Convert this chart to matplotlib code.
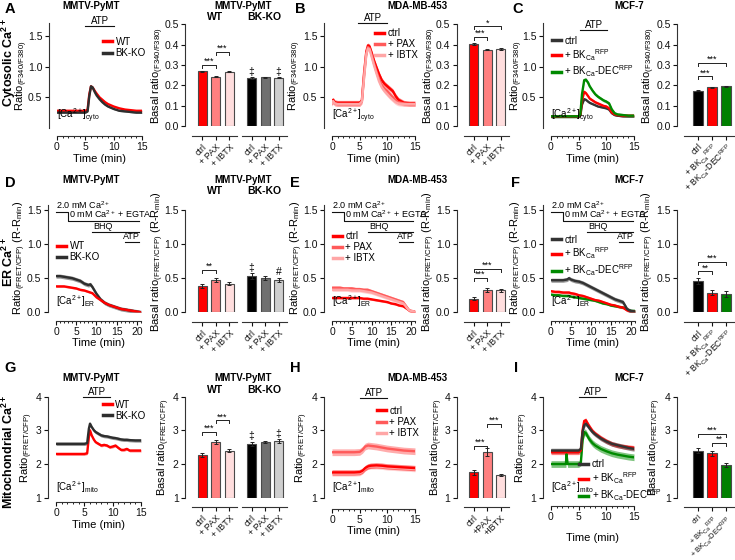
import matplotlib
matplotlib.use('Agg')
import matplotlib.pyplot as plt
import numpy as np
from matplotlib.lines import Line2D
from matplotlib.ticker import MultipleLocator

plt.rcParams['font.family'] = ['Liberation Sans', 'DejaVu Sans']
plt.rcParams['mathtext.fontset'] = 'custom'
plt.rcParams['mathtext.rm'] = 'Liberation Sans'
plt.rcParams['mathtext.it'] = 'Liberation Sans'
plt.rcParams['mathtext.bf'] = 'Liberation Sans:bold'
plt.rcParams['axes.linewidth'] = 0.8

# ---------------- trace data ----------------
A_t = [0, 1, 2, 3, 4, 5, 5.4, 5.7, 6.0, 6.3, 6.7, 7, 7.5, 8, 8.5, 9, 9.5, 10, 11, 12, 13, 14, 15]
A_wt = [0.28, 0.28, 0.28, 0.28, 0.28, 0.28, 0.30, 0.55, 0.68, 0.66, 0.60, 0.56, 0.50, 0.46, 0.42, 0.39,
        0.37, 0.35, 0.32, 0.30, 0.29, 0.28, 0.28]
A_ko = [0.25, 0.25, 0.25, 0.25, 0.25, 0.25, 0.27, 0.52, 0.68, 0.66, 0.58, 0.53, 0.47, 0.42, 0.38, 0.35,
        0.33, 0.31, 0.28, 0.27, 0.26, 0.25, 0.25]

B_t = [0, 0.2, 0.5, 1, 2, 3, 4, 5, 5.4, 5.8, 6.2, 6.5, 6.8, 7.2, 7.6, 8, 8.5, 9, 9.5, 10, 10.5, 11,
       11.5, 12, 13, 14, 15]
B_ctrl = [0.42, 0.46, 0.42, 0.41, 0.41, 0.41, 0.41, 0.41, 0.45, 0.90, 1.25, 1.35, 1.33, 1.22, 1.10, 1.00,
          0.88, 0.78, 0.72, 0.68, 0.64, 0.60, 0.52, 0.46, 0.41, 0.40, 0.40]
B_pax = [0.40, 0.43, 0.40, 0.39, 0.39, 0.39, 0.39, 0.39, 0.43, 0.85, 1.22, 1.32, 1.30, 1.18, 1.05, 0.93,
         0.80, 0.70, 0.64, 0.60, 0.55, 0.50, 0.45, 0.42, 0.40, 0.39, 0.39]
B_ibtx = [0.40, 0.44, 0.40, 0.39, 0.39, 0.39, 0.39, 0.39, 0.43, 0.82, 1.20, 1.30, 1.28, 1.15, 1.02, 0.90,
          0.76, 0.66, 0.60, 0.55, 0.50, 0.46, 0.42, 0.40, 0.39, 0.39, 0.39]

C_t = [0, 1, 2, 3, 4, 5, 5.3, 5.6, 6, 6.3, 6.7, 7, 7.5, 8, 8.5, 9, 9.5, 10, 10.5, 11, 11.5, 12, 13, 14, 15]
C_ctrl = [0.18, 0.18, 0.18, 0.18, 0.18, 0.18, 0.20, 0.38, 0.47, 0.46, 0.43, 0.41, 0.39, 0.37, 0.35, 0.34,
          0.33, 0.32, 0.30, 0.24, 0.21, 0.20, 0.19, 0.19, 0.19]
C_bk = [0.19, 0.19, 0.19, 0.19, 0.19, 0.19, 0.21, 0.45, 0.59, 0.57, 0.52, 0.48, 0.45, 0.42, 0.40, 0.38,
        0.36, 0.35, 0.32, 0.25, 0.22, 0.21, 0.20, 0.20, 0.20]
C_dec = [0.19, 0.19, 0.19, 0.19, 0.19, 0.19, 0.22, 0.55, 0.78, 0.79, 0.74, 0.68, 0.61, 0.55, 0.51, 0.48,
         0.45, 0.43, 0.40, 0.30, 0.24, 0.22, 0.21, 0.20, 0.20]

D_t = [0, 1, 2, 3, 4, 5, 6, 7, 8, 8.5, 9, 9.5, 10, 11, 12, 13, 14, 15, 16, 17, 18, 19, 20, 21]
D_wt = [0.38, 0.38, 0.38, 0.37, 0.36, 0.35, 0.33, 0.32, 0.30, 0.29, 0.28, 0.25, 0.22, 0.18, 0.14, 0.11,
        0.09, 0.07, 0.05, 0.04, 0.03, 0.02, 0.01, 0.00]
D_ko = [0.53, 0.53, 0.52, 0.51, 0.50, 0.48, 0.46, 0.42, 0.40, 0.41, 0.37, 0.32, 0.27, 0.19, 0.14, 0.11,
        0.09, 0.07, 0.05, 0.04, 0.03, 0.02, 0.01, 0.00]

E_t = [0, 1, 2, 3, 4, 5, 6, 7, 8, 9, 10, 11, 12, 13, 14, 15, 16, 17, 18, 18.5, 19, 19.5, 20, 21]
E_ctrl = [0.21, 0.21, 0.21, 0.21, 0.21, 0.21, 0.21, 0.21, 0.20, 0.20, 0.19, 0.18, 0.17, 0.16, 0.15, 0.13,
          0.12, 0.10, 0.09, 0.07, 0.05, 0.03, 0.01, 0.01]
E_pax = [0.36, 0.36, 0.36, 0.35, 0.35, 0.35, 0.34, 0.34, 0.33, 0.33, 0.31, 0.29, 0.27, 0.25, 0.23, 0.21,
         0.19, 0.17, 0.15, 0.11, 0.07, 0.03, 0.02, 0.01]
E_ibtx = [0.33, 0.33, 0.33, 0.33, 0.33, 0.32, 0.32, 0.32, 0.31, 0.30, 0.29, 0.27, 0.25, 0.23, 0.21, 0.19,
          0.17, 0.15, 0.13, 0.10, 0.06, 0.03, 0.02, 0.01]

F_t = [0, 1, 2, 3, 4, 4.5, 5, 6, 7, 8, 9, 10, 11, 12, 13, 14, 15, 16, 17, 18, 18.5, 19, 19.5, 20, 21]
F_ctrl = [0.47, 0.47, 0.47, 0.47, 0.48, 0.50, 0.48, 0.46, 0.45, 0.43, 0.40, 0.37, 0.34, 0.31, 0.28, 0.25,
          0.22, 0.19, 0.17, 0.15, 0.10, 0.05, 0.03, 0.02, 0.01]
F_bk = [0.31, 0.30, 0.30, 0.29, 0.29, 0.29, 0.28, 0.27, 0.25, 0.24, 0.22, 0.20, 0.18, 0.17, 0.15, 0.13,
        0.11, 0.10, 0.08, 0.07, 0.05, 0.03, 0.02, 0.01, 0.01]
F_dec = [0.26, 0.25, 0.25, 0.24, 0.24, 0.24, 0.23, 0.22, 0.21, 0.20, 0.19, 0.18, 0.17, 0.15, 0.13, 0.12,
         0.10, 0.09, 0.08, 0.07, 0.06, 0.04, 0.03, 0.02, 0.02]

G_t = [0, 1, 2, 3, 4, 5, 5.5, 5.8, 6.0, 6.3, 6.7, 7, 7.5, 8, 8.5, 9, 9.5, 10, 10.5, 11, 11.5, 12, 12.5,
       13, 14, 15]
G_wt = [2.30, 2.30, 2.30, 2.30, 2.30, 2.30, 2.32, 2.80, 3.00, 2.85, 2.72, 2.65, 2.60, 2.55, 2.57, 2.55,
        2.50, 2.52, 2.55, 2.48, 2.42, 2.42, 2.45, 2.40, 2.40, 2.40]
G_ko = [2.60, 2.60, 2.60, 2.60, 2.60, 2.60, 2.62, 3.05, 3.20, 3.10, 3.00, 2.95, 2.90, 2.85, 2.83, 2.82,
        2.80, 2.78, 2.77, 2.75, 2.73, 2.72, 2.72, 2.71, 2.70, 2.70]

H_t = [0, 1, 2, 3, 4, 5, 5.5, 6, 6.5, 7, 8, 9, 10, 11, 12, 13, 14, 15]
H_ctrl = [1.75, 1.75, 1.75, 1.75, 1.75, 1.76, 1.80, 1.88, 1.93, 1.95, 1.96, 1.95, 1.93, 1.92, 1.91, 1.90,
          1.89, 1.88]
H_pax = [2.35, 2.35, 2.35, 2.35, 2.35, 2.36, 2.42, 2.52, 2.55, 2.54, 2.52, 2.49, 2.46, 2.44, 2.42, 2.40,
         2.39, 2.38]
H_ibtx = [1.72, 1.72, 1.72, 1.72, 1.72, 1.73, 1.78, 1.87, 1.92, 1.93, 1.93, 1.92, 1.90, 1.89, 1.88, 1.87,
          1.86, 1.85]

I_t = [0, 1, 2, 2.7, 2.8, 3, 4, 5, 5.4, 5.7, 6, 6.3, 6.7, 7, 7.5, 8, 9, 10, 11, 12, 13, 14, 15]
I_ctrl = [2.40, 2.40, 2.40, 2.40, 2.40, 2.40, 2.40, 2.40, 2.45, 2.95, 3.15, 3.20, 3.12, 3.05, 2.95, 2.88,
          2.76, 2.67, 2.60, 2.56, 2.52, 2.48, 2.45]
I_bk = [2.35, 2.35, 2.35, 2.35, 2.35, 2.35, 2.35, 2.35, 2.40, 3.00, 3.28, 3.30, 3.18, 3.10, 2.98, 2.90,
        2.78, 2.68, 2.60, 2.55, 2.52, 2.50, 2.48]
I_dec = [2.00, 2.00, 2.00, 2.00, 2.30, 2.00, 2.00, 2.00, 2.05, 2.70, 2.95, 2.92, 2.80, 2.72, 2.62, 2.55,
         2.45, 2.38, 2.32, 2.28, 2.25, 2.22, 2.20]

# sem per trace
A_sem = [0.012, 0.012]
B_sem = [0.04, 0.04, 0.04]
C_sem = [0.012, 0.02, 0.025]
D_sem = [0.015, 0.03]
E_sem = [0.015, 0.025, 0.025]
F_sem = [0.03, 0.02, 0.015]
G_sem = [0.04, 0.05]
H_sem = [0.08, 0.1, 0.08]
I_sem = [0.07, 0.07, 0.1]

# stimulus timing (min)
ATP_A = [5, 10]
ATP_B = [4.7, 10]
ATP_C = [5.3, 10.2]
ATP_G = [4.8, 9.6]
ATP_H = [5, 10]
ATP_I = [5, 10]
ER_SWITCH = 3
ER_BHQ = 9
ER_ATP = 17
ER_END = 20.6

# ---------------- bar data ----------------
GROUP_LABELS = ['ctrl', '+ PAX', '+ IBTX']
H_LABELS = ['ctrl', '+PAX', '+IBTX']
MCF_LABELS = ['ctrl', '+ BK$_{Ca}$$^{RFP}$', '+ BK$_{Ca}$-DEC$^{RFP}$']

A_wt_bar = [0.270, 0.243, 0.268]
A_wt_err = [0.003, 0.002, 0.002]
A_ko_bar = [0.237, 0.240, 0.238]
A_ko_err = [0.003, 0.002, 0.003]
B_bar = [0.405, 0.375, 0.380]
B_err = [0.005, 0.003, 0.004]
C_bar = [0.175, 0.190, 0.195]
C_err = [0.003, 0.004, 0.004]
D_wt_bar = [0.38, 0.47, 0.42]
D_wt_err = [0.03, 0.03, 0.02]
D_ko_bar = [0.53, 0.50, 0.48]
D_ko_err = [0.04, 0.03, 0.03]
E_bar = [0.20, 0.33, 0.32]
E_err = [0.02, 0.03, 0.02]
F_bar = [0.46, 0.29, 0.27]
F_err = [0.04, 0.03, 0.04]
G_wt_bar = [2.27, 2.65, 2.40]
G_wt_err = [0.05, 0.05, 0.04]
G_ko_bar = [2.60, 2.66, 2.68]
G_ko_err = [0.06, 0.03, 0.06]
H_bar = [1.75, 2.35, 1.68]
H_err = [0.07, 0.12, 0.03]
I_bar = [2.40, 2.32, 1.98]
I_err = [0.07, 0.07, 0.06]

# significance: (bar i, bar j, bracket height, label)
A_sig = [(0, 1, 0.30, '***'), (1, 2, 0.365, '***')]
B_sig = [(0, 1, 0.44, '***'), (0, 2, 0.49, '*')]
C_sig = [(0, 1, 0.245, '***'), (0, 2, 0.31, '***')]
D_sig = [(0, 1, 0.62, '**')]
E_sig = [(0, 1, 0.50, '***'), (0, 2, 0.64, '***')]
F_sig = [(0, 1, 0.60, '**'), (0, 2, 0.74, '***')]
G_sig = [(0, 1, 2.95, '***'), (1, 2, 3.30, '***')]
H_sig = [(0, 1, 2.55, '***'), (1, 2, 3.20, '***')]
I_sig = [(0, 2, 2.90, '***'), (1, 2, 2.62, '**')]
A_ko_marks = [(0, '‡'), (2, '‡')]
D_ko_marks = [(0, '‡'), (2, '#')]
G_ko_marks = [(0, '‡'), (2, '‡')]

RED = '#ff0000'
TR_RED = [RED, '#ff5a5a', '#ffa6a6']
TR_KO = [RED, '#2e2e2e']
TR_MCF = ['#333333', RED, '#008a00']
BAR_RED = [RED, '#ff8080', '#ffdede']
BAR_KO = ['#000000', '#707070', '#cfcfcf']
BAR_MCF = ['#000000', RED, '#008000']
DARK = '#333333'

W, H = 735, 560
fig = plt.figure(figsize=(W / 100, H / 100), dpi=100)


def px_axes(x0, x1, y0, y1):
    return fig.add_axes([x0 / W, 1 - y1 / H, (x1 - x0) / W, (y1 - y0) / H])


def ftext(x, y, s, **kw):
    fig.text(x / W, 1 - y / H, s, **kw)


def style(ax, left_out, bottom_out):
    for side in ['top', 'right']:
        ax.spines[side].set_visible(False)
    ax.spines['left'].set_position(('outward', left_out))
    ax.spines['bottom'].set_position(('outward', bottom_out))
    for side in ['left', 'bottom']:
        ax.spines[side].set_color(DARK)
    ax.tick_params(direction='out', length=3, width=0.8, labelsize=7.5, colors='#111111', pad=1.5)


def place_ylabel(ax, rect, text, lab_px):
    ax.set_ylabel(text, fontsize=8)
    ax.yaxis.set_label_coords((lab_px - rect[0]) / (rect[1] - rect[0]), 0.5)


def trace_panel(rect, t, series, colors, sems, labels, ylim, yticks, xmax, xticks, ylabel, lab_px,
                ca_label, leg_xy, xout=6, time_pad=1, order=None):
    ax = px_axes(*rect)
    style(ax, 6, xout)
    idx = order if order is not None else range(len(series))
    for k in idx:
        y = np.asarray(series[k])
        ax.fill_between(t, y - sems[k], y + sems[k], color=colors[k], alpha=0.5, lw=0)
        ax.plot(t, y, color=colors[k], lw=1.7)
    ax.set_xlim(0, xmax)
    ax.set_ylim(*ylim)
    ax.set_yticks(yticks)
    ax.set_xticks(xticks)
    ax.xaxis.set_minor_locator(MultipleLocator(1))
    ax.tick_params(axis='x', which='minor', length=1.5, width=0.6)
    ax.set_xlabel('Time (min)', fontsize=8, labelpad=time_pad)
    place_ylabel(ax, rect, ylabel, lab_px)
    ax.text(0.0, 0.03, ca_label, transform=ax.transAxes, fontsize=7, ha='left', va='bottom')
    handles = [Line2D([], [], color=c, lw=2.5) for c in colors]
    ax.legend(handles, labels, loc='upper left', bbox_to_anchor=leg_xy, frameon=False, fontsize=7,
              handlelength=0.9, handletextpad=0.4, labelspacing=0.12, borderpad=0, borderaxespad=0)
    return ax


def atp_bar(ax, window, y):
    ax.plot(window, [y, y], color='#111111', lw=0.8, clip_on=False)
    ax.text(sum(window) / 2, y, 'ATP', ha='center', va='bottom', fontsize=7)


def er_protocol(ax):
    c = '#111111'
    ax.plot([0, ER_SWITCH, ER_SWITCH, ER_END], [1.475, 1.475, 1.34, 1.34], color=c, lw=0.8, clip_on=False)
    ax.text(0, 1.485, '2.0 mM Ca$^{2+}$', fontsize=6.5, ha='left', va='bottom')
    ax.text(ER_SWITCH + 0.2, 1.35, '0 mM Ca$^{2+}$ + EGTA', fontsize=6.5, ha='left', va='bottom')
    ax.plot([ER_BHQ, ER_END], [1.18, 1.18], color=c, lw=0.8)
    ax.text(ER_BHQ + 0.3, 1.19, 'BHQ', fontsize=6.5, ha='left', va='bottom')
    ax.plot([ER_ATP, ER_END], [1.03, 1.03], color=c, lw=0.8)
    ax.text(ER_END, 1.04, 'ATP', fontsize=6.5, ha='right', va='bottom')


def bar_panel(rect, vals, errs, colors, labels, ylim, yticks, xlim, ylabel=None, lab_px=None, base=0.0,
              sig=(), marks=(), show_left=True, label_size=6.5):
    ax = px_axes(*rect)
    style(ax, 5, 7)
    x = np.arange(len(vals))
    heights = np.asarray(vals) - base
    ax.bar(x, heights, bottom=base, width=0.66, color=colors, edgecolor='#4a4a4a', linewidth=0.8,
           yerr=errs, error_kw=dict(ecolor='#222222', elinewidth=0.7, capsize=1.5, capthick=0.7))
    ax.set_xlim(*xlim)
    ax.set_ylim(*ylim)
    ax.set_yticks(yticks)
    ax.set_xticks(x)
    ax.set_xticklabels(labels, rotation=45, ha='right', rotation_mode='anchor', fontsize=label_size)
    if not show_left:
        ax.spines['left'].set_visible(False)
        ax.tick_params(axis='y', left=False, labelleft=False)
    if ylabel:
        place_ylabel(ax, rect, ylabel, lab_px)
    span = ylim[1] - ylim[0]
    for i, j, y, s in sig:
        h = 0.03 * span
        ax.plot([i, i, j, j], [y - h, y, y, y - h], color='#222222', lw=0.7, clip_on=False)
        ax.text((i + j) / 2, y - 0.01 * span, s, ha='center', va='bottom', fontsize=6.5)
    for i, s in marks:
        ax.text(i, vals[i] + errs[i] + 0.005 * span, s, ha='center', va='bottom', fontsize=7.5)
    return ax


GX = (-0.75, 2.6)
MX = (-1.0, 2.6)

# ---------------- row 1: cytosolic ----------------
R1 = (22.7, 127.9)
lab1 = 'Ratio$_{(F340/F380)}$'
blab1 = 'Basal ratio$_{(F340/F380)}$'
ax = trace_panel((57, 142) + R1, A_t, [A_wt, A_ko], TR_KO, A_sem, ['WT', 'BK-KO'], (0, 1.72),
                 [0.5, 1.0, 1.5], 15, [0, 5, 10, 15], lab1, 30, '[Ca$^{2+}$]$_{cyto}$', (0.54, 0.865))
atp_bar(ax, ATP_A, 1.67)
ax = trace_panel((332, 415) + R1, B_t, [B_ctrl, B_pax, B_ibtx], TR_RED, B_sem, ['ctrl', '+ PAX', '+ IBTX'],
                 (0, 1.72), [0.5, 1.0, 1.5], 15, [0, 5, 10, 15], lab1, 303, '[Ca$^{2+}$]$_{cyto}$',
                 (0.52, 0.95))
atp_bar(ax, ATP_B, 1.71)
ax = trace_panel((551, 634) + R1, C_t, [C_ctrl, C_bk, C_dec], TR_MCF, C_sem, MCF_LABELS,
                 (0, 1.72), [0.5, 1.0, 1.5], 15, [0, 5, 10, 15], lab1, 525, '[Ca$^{2+}$]$_{cyto}$',
                 (0.01, 0.875))
atp_bar(ax, ATP_C, 1.60)

RB1 = (24.3, 126.2)
yt1 = [0.0, 0.1, 0.2, 0.3, 0.4, 0.5]
bar_panel((192, 237.2) + RB1, A_wt_bar, A_wt_err, BAR_RED, GROUP_LABELS, (0, 0.5), yt1, GX, blab1, 166,
          sig=A_sig)
bar_panel((241.5, 286.7) + RB1, A_ko_bar, A_ko_err, BAR_KO, GROUP_LABELS, (0, 0.5), yt1, GX,
          marks=A_ko_marks, show_left=False)
bar_panel((463.5, 508.7) + RB1, B_bar, B_err, BAR_RED, GROUP_LABELS, (0, 0.5), yt1, GX, blab1, 438,
          sig=B_sig)
bar_panel((684, 734.4) + RB1, C_bar, C_err, BAR_MCF, MCF_LABELS, (0, 0.5), yt1, MX, blab1, 657, sig=C_sig,
          label_size=6.2)

# ---------------- row 2: ER ----------------
R2 = (204.5, 312.3)
lab2 = 'Ratio$_{(FRET/CFP)}$ (R-R$_{min}$)'
blab2 = 'Basal ratio$_{(FRET/CFP)}$ (R-R$_{min}$)'
ax = trace_panel((56, 141) + R2, D_t, [D_wt, D_ko], TR_KO, D_sem, ['WT', 'BK-KO'], (0, 1.58),
                 [0.0, 0.5, 1.0, 1.5], 21, [0, 5, 10, 15, 20], lab2, 28.5, '[Ca$^{2+}$]$_{ER}$', (0.01, 0.66),
                 order=[1, 0])
er_protocol(ax)
ax = trace_panel((332, 415) + R2, E_t, [E_ctrl, E_pax, E_ibtx], TR_RED, E_sem, ['ctrl', '+ PAX', '+ IBTX'],
                 (0, 1.58), [0.0, 0.5, 1.0, 1.5], 21, [0, 5, 10, 15, 20], lab2, 305, '[Ca$^{2+}$]$_{ER}$',
                 (0.01, 0.755))
er_protocol(ax)
ax = trace_panel((551, 635) + R2, F_t, [F_ctrl, F_bk, F_dec], TR_MCF, F_sem, MCF_LABELS,
                 (0, 1.58), [0.0, 0.5, 1.0, 1.5], 21, [0, 5, 10, 15, 20], lab2, 525, '[Ca$^{2+}$]$_{ER}$',
                 (0.01, 0.72), order=[2, 1, 0])
er_protocol(ax)

RB2 = (210.0, 312.3)
yt2 = [0.0, 0.5, 1.0, 1.5]
bar_panel((192, 237.2) + RB2, D_wt_bar, D_wt_err, BAR_RED, GROUP_LABELS, (0, 1.5), yt2, GX, blab2, 166,
          sig=D_sig)
bar_panel((241.5, 286.7) + RB2, D_ko_bar, D_ko_err, BAR_KO, GROUP_LABELS, (0, 1.5), yt2, GX,
          marks=D_ko_marks, show_left=False)
bar_panel((463.5, 508.7) + RB2, E_bar, E_err, BAR_RED, GROUP_LABELS, (0, 1.5), yt2, GX, blab2, 437,
          sig=E_sig)
bar_panel((684, 734.4) + RB2, F_bar, F_err, BAR_MCF, MCF_LABELS, (0, 1.5), yt2, MX, blab2, 656, sig=F_sig,
          label_size=6.2)

# ---------------- row 3: mitochondria ----------------
R3 = (396.7, 497.7)
lab3 = 'Ratio$_{(FRET/CFP)}$'
blab3 = 'Basal ratio$_{(FRET/CFP)}$'
ax = trace_panel((56, 141) + R3, G_t, [G_wt, G_ko], TR_KO, G_sem, ['WT', 'BK-KO'], (1, 4),
                 [1, 2, 3, 4], 15, [0, 5, 10, 15], lab3, 35, '[Ca$^{2+}$]$_{mito}$', (0.55, 0.97), xout=3)
atp_bar(ax, ATP_G, 4.0)
ax = trace_panel((332, 415) + R3, H_t, [H_ctrl, H_pax, H_ibtx], TR_RED, H_sem, ['ctrl', '+ PAX', '+ IBTX'],
                 (1, 4), [1, 2, 3, 4], 15, [0, 5, 10, 15], lab3, 310, '[Ca$^{2+}$]$_{mito}$', (0.54, 0.91),
                 xout=8, order=[2, 1, 0])
atp_bar(ax, ATP_H, 3.96)
ax = trace_panel((551, 634) + R3, I_t, [I_ctrl, I_bk, I_dec], TR_MCF, I_sem, MCF_LABELS,
                 (1, 4), [1, 2, 3, 4], 15, [0, 5, 10, 15], lab3, 530, '[Ca$^{2+}$]$_{mito}$', (0.34, 0.38),
                 xout=6, time_pad=8, order=[2, 1, 0])
atp_bar(ax, ATP_I, 4.0)

RB3 = (396.7, 497.7)
yt3 = [1, 2, 3, 4]
bar_panel((192, 237.2) + RB3, G_wt_bar, G_wt_err, BAR_RED, GROUP_LABELS, (1, 4), yt3, GX, blab3, 172,
          base=1, sig=G_sig)
bar_panel((241.5, 286.7) + RB3, G_ko_bar, G_ko_err, BAR_KO, GROUP_LABELS, (1, 4), yt3, GX, base=1,
          marks=G_ko_marks, show_left=False)
bar_panel((463.5, 508.7) + RB3, H_bar, H_err, BAR_RED, H_LABELS, (1, 4), yt3, GX, blab3, 445, base=1,
          sig=H_sig)
bar_panel((684, 734.4) + RB3, I_bar, I_err, BAR_MCF, MCF_LABELS, (1, 4), yt3, MX, blab3, 663, base=1,
          sig=I_sig, label_size=5.4)

# ---------------- figure text ----------------
for s, x, y in [('A', 10, 9), ('B', 300, 9), ('C', 518, 9), ('D', 10, 183), ('E', 295, 183),
                ('F', 516, 183), ('G', 10, 368), ('H', 295, 368), ('I', 516, 368)]:
    ftext(x, y, s, fontsize=10.5, fontweight='bold', ha='center', va='center')

for s, y in [('Cytosolic Ca$^{\\mathbf{2+}}$', 63), ('ER Ca$^{\\mathbf{2+}}$', 262),
             ('Mitochondrial Ca$^{\\mathbf{2+}}$', 452)]:
    ftext(8.5, y, s, fontsize=9, fontweight='bold', rotation=90, ha='center', va='center')

for y_t, y_g in [(6, 17), (180, 191), (378, 390)]:
    ftext(91, y_t, 'MMTV-PyMT', fontsize=7, fontweight='bold', ha='center', va='center')
    ftext(243, y_t, 'MMTV-PyMT', fontsize=7, fontweight='bold', ha='center', va='center')
    ftext(214.6, y_g, 'WT', fontsize=7.5, fontweight='bold', ha='center', va='center')
    ftext(264, y_g, 'BK-KO', fontsize=7.5, fontweight='bold', ha='center', va='center')
    ftext(417, y_t, 'MDA-MB-453', fontsize=7, fontweight='bold', ha='center', va='center')
    ftext(629, y_t, 'MCF-7', fontsize=7, fontweight='bold', ha='center', va='center')

fig.savefig('out.png', dpi=100)
